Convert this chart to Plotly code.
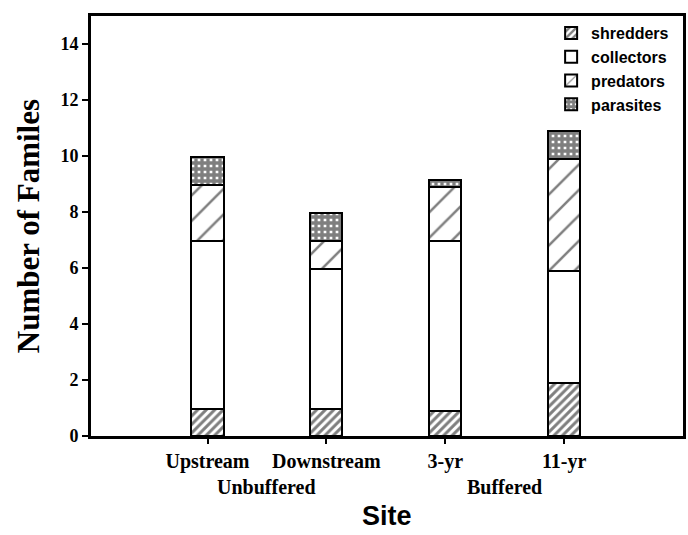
import plotly.graph_objects as go

sites = ["Upstream", "Downstream", "3-yr", "11-yr"]
groups = ["Unbuffered", "Buffered"]
shredders = [0.97, 0.95, 0.9, 1.9]
collectors = [6.0, 5.0, 6.05, 4.0]
predators = [2.0, 1.0, 1.95, 4.0]
parasites = [1.0, 1.0, 0.25, 1.0]
y_ticks = [0, 2, 4, 6, 8, 10, 12, 14]

xpos = list(range(len(sites)))
serif = "Liberation Serif, Times New Roman, serif"
sans = "Liberation Sans, Arial, sans-serif"

series = [
    ("shredders", shredders, dict(shape="/", size=6, solidity=0.5, fgcolor="black", bgcolor="white")),
    ("collectors", collectors, dict(shape="")),
    ("predators", predators, dict(shape="/", size=18, solidity=0.14, fgcolor="black", bgcolor="white")),
    ("parasites", parasites, dict(shape="+", size=6, solidity=0.8, fgcolor="black", bgcolor="white")),
]

fig = go.Figure()
for name, vals, pat in series:
    fig.add_trace(go.Bar(
        x=xpos, y=vals, name=name, width=0.27,
        marker=dict(color="white", line=dict(color="black", width=2), pattern=pat),
    ))

fig.update_layout(
    barmode="stack",
    width=688, height=535,
    margin=dict(l=91, r=5, t=16, b=99),
    plot_bgcolor="white", paper_bgcolor="white",
    showlegend=True,
    legend=dict(x=0.985, xanchor="right", y=1.0, yanchor="top",
                bgcolor="rgba(0,0,0,0)", traceorder="normal",
                font=dict(family=sans, size=16, color="black", weight="bold"),
                tracegroupgap=0),
    xaxis=dict(range=[-0.98, 4.0], tickvals=xpos, ticktext=sites, automargin=False,
               tickfont=dict(family=serif, size=20, color="black", weight="bold"),
               ticks="outside", ticklen=5, tickwidth=2, tickcolor="black",
               showline=True, linewidth=3, linecolor="black", mirror=True,
               showgrid=False, zeroline=False),
    yaxis=dict(range=[0, 15], tickvals=y_ticks, automargin=False,
               tickfont=dict(family=serif, size=18, color="black", weight="bold"),
               ticks="outside", ticklen=6, tickwidth=2, tickcolor="black",
               showline=True, linewidth=3, linecolor="black", mirror=True,
               showgrid=False, zeroline=False),
)

for i, g in enumerate(groups):
    fig.add_annotation(x=2 * i + 0.5, xref="x", y=-0.121, yref="paper", yanchor="middle",
                       text=g, showarrow=False,
                       font=dict(family=serif, size=20, color="black", weight="bold"))

fig.add_annotation(x=0.5, xref="paper", y=-0.19, yref="paper", yanchor="middle",
                   text="Site", showarrow=False,
                   font=dict(family=sans, size=27, color="black", weight="bold"))
fig.add_annotation(x=-0.106, xref="paper", y=0.5, yref="paper", xanchor="center", yanchor="middle",
                   text="Number of Familes", textangle=-90, showarrow=False,
                   font=dict(family=serif, size=31, color="black", weight="bold"))

fig.write_html("out.html", config={"displayModeBar": False},
               post_script="document.body.style.margin='0';")
